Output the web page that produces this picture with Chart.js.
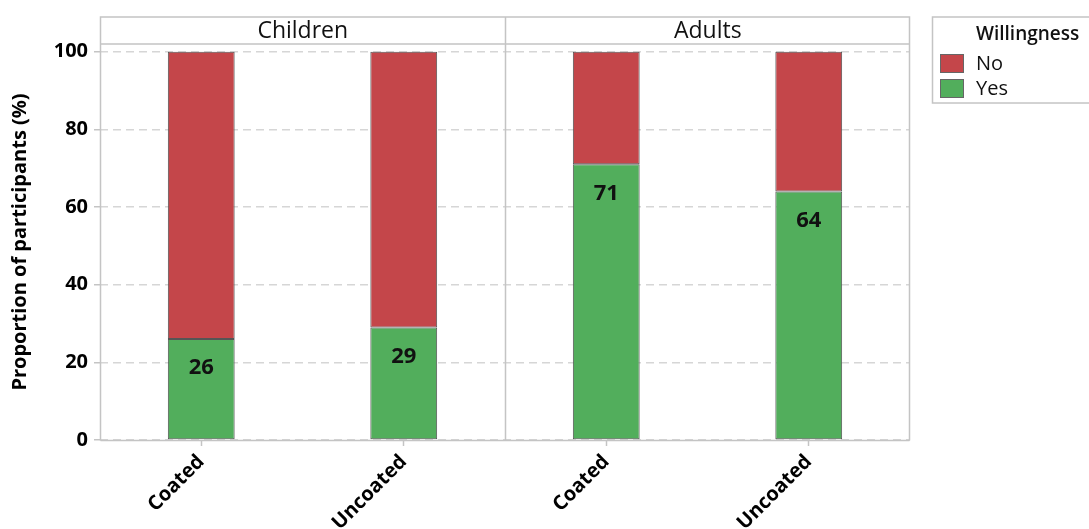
<!DOCTYPE html>
<html>
<head>
<meta charset="utf-8">
<script src="https://cdn.jsdelivr.net/npm/chart.js@4"></script>
<style>
    html, body { margin: 0; padding: 0; background: #fff; }
    #wrap { width: 1089px; height: 529px; position: relative; }
</style>
</head>
<body>
<div id="wrap"><canvas id="chart"></canvas></div>
<script>
const panels = ['Children', 'Adults'];
const coatings = ['Coated', 'Uncoated', 'Coated', 'Uncoated'];
const yesValues = [26, 29, 71, 64];
const noValues = [74, 71, 29, 36];
const yTicks = [0, 20, 40, 60, 80, 100];
const legendTitle = 'Willingness';

const FONT = '"Open Sans", "Noto Sans", sans-serif';
const RED = '#c4464a';
const GREEN = '#52ae5c';
const FRAME = '#c4c4c4';

// frame, facet header strip, divider, value labels and legend box
const facetPlugin = {
    id: 'facet',
    afterDatasetsDraw(chart) {
        const { ctx } = chart;
        const meta = chart.getDatasetMeta(0);
        ctx.save();
        ctx.font = `bold 22px ${FONT}`;
        ctx.fillStyle = '#111';
        ctx.textAlign = 'center';
        ctx.textBaseline = 'middle';
        meta.data.forEach((bar, i) => {
            ctx.fillText(String(yesValues[i]), bar.x, bar.y + 29);
        });
        ctx.restore();
    },
    afterDraw(chart) {
        const { ctx, chartArea: area, scales } = chart;
        const top = 17;
        const stripBottom = area.top;
        const divX = Math.round(scales.x.getPixelForValue(1.5)) + 0.5;
        const L = area.left + 0.5;
        const R = Math.round(area.right) - 0.5;
        const B = Math.round(area.bottom) + 0.5;

        ctx.save();
        ctx.strokeStyle = FRAME;
        ctx.lineWidth = 1.5;
        ctx.beginPath();
        ctx.moveTo(L, B); ctx.lineTo(L, top); ctx.lineTo(R, top); ctx.lineTo(R, B);
        ctx.moveTo(L, B); ctx.lineTo(R, B);
        ctx.moveTo(L, stripBottom); ctx.lineTo(R, stripBottom);
        ctx.moveTo(divX, top); ctx.lineTo(divX, B);
        ctx.stroke();

        ctx.font = `23px ${FONT}`;
        ctx.fillStyle = '#111';
        ctx.textAlign = 'center';
        ctx.textBaseline = 'middle';
        ctx.fillText(panels[0], (area.left + divX) / 2, (top + stripBottom) / 2 + 1);
        ctx.fillText(panels[1], (divX + area.right) / 2, (top + stripBottom) / 2 + 1);

        // legend
        const lx = 932.5;
        ctx.strokeStyle = FRAME;
        ctx.lineWidth = 1.5;
        ctx.strokeRect(lx, top, 1089 - lx + 5, 86);
        ctx.textAlign = 'left';
        ctx.font = `600 19px ${FONT}`;
        ctx.fillText(legendTitle, 976, 35);
        const items = chart.data.datasets.slice().reverse();
        ctx.font = `20px ${FONT}`;
        items.forEach((ds, i) => {
            const y = 54 + i * 25;
            ctx.fillStyle = ds.backgroundColor;
            ctx.fillRect(940, y, 24, 19);
            ctx.strokeStyle = '#666';
            ctx.lineWidth = 1;
            ctx.strokeRect(940.5, y + 0.5, 23, 18);
            ctx.fillStyle = '#111';
            ctx.fillText(ds.label, 976, y + 10);
        });
        ctx.restore();
    },
};

new Chart(document.getElementById('chart'), {
    type: 'bar',
    data: {
        labels: coatings,
        datasets: [
            {
                label: 'Yes',
                data: yesValues,
                backgroundColor: GREEN,
                borderColor: '#555',
                borderWidth: 1,
                borderSkipped: false,
                barPercentage: 0.33,
                categoryPercentage: 1,
            },
            {
                label: 'No',
                data: noValues,
                backgroundColor: RED,
                borderColor: '#555',
                borderWidth: 1,
                borderSkipped: false,
                barPercentage: 0.33,
                categoryPercentage: 1,
            },
        ],
    },
    options: {
        responsive: true,
        maintainAspectRatio: false,
        animation: false,
        layout: {
            padding: { left: 0, top: 44, right: 179, bottom: 0 },
        },
        plugins: {
            legend: { display: false },
            tooltip: { enabled: false },
        },
        scales: {
            x: {
                stacked: true,
                grid: {
                    drawOnChartArea: false,
                    offset: false,
                    tickLength: 6,
                    tickColor: FRAME,
                    tickWidth: 1.5,
                },
                border: { display: false },
                ticks: {
                    color: '#000',
                    font: { family: FONT, size: 20, weight: 'bold' },
                    minRotation: 45,
                    maxRotation: 45,
                    padding: 4,
                },
                afterFit: (scale) => { scale.height = 89; },
            },
            y: {
                stacked: true,
                min: 0,
                max: 102,
                afterBuildTicks: (scale) => {
                    scale.ticks = yTicks.map((v) => ({ value: v }));
                },
                grid: {
                    color: '#d6d6d6',
                    lineWidth: 1.5,
                    tickLength: 6,
                    tickColor: FRAME,
                    tickWidth: 1.5,
                    tickBorderDash: [],
                },
                border: { display: false, dash: [8, 5] },
                ticks: {
                    color: '#000',
                    font: { family: FONT, size: 20, weight: 'bold' },
                    padding: 6,
                },
                title: {
                    display: true,
                    text: 'Proportion of participants (%)',
                    color: '#000',
                    font: { family: FONT, size: 20, weight: 'bold' },
                    padding: { top: 8, bottom: 0 },
                },
                afterFit: (scale) => { scale.width = 100; },
            },
        },
    },
    plugins: [facetPlugin],
});
</script>
</body>
</html>
